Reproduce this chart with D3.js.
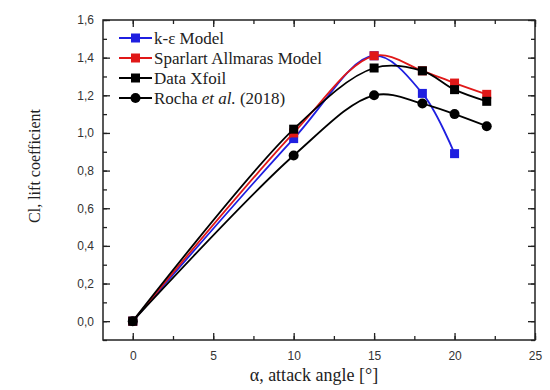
<!DOCTYPE html>
<html>
<head>
<meta charset="utf-8">
<script src="https://cdn.jsdelivr.net/npm/d3@7"></script>
<style>
  body { margin: 0; background: #fff; }
  .tick text { font-family: "Liberation Sans", Arial, sans-serif; font-size: 12px; fill: #333; }
</style>
</head>
<body>
<div id="chart"></div>
<script>
var angles = [0, 10, 15, 18, 20, 22];
var kEpsilon = [0, 0.97, 1.41, 1.21, 0.89];
var spalart = [0, 1.00, 1.41, 1.33, 1.265, 1.205];
var xfoil = [0, 1.02, 1.345, 1.33, 1.23, 1.168];
var rocha = [0, 0.88, 1.20, 1.156, 1.10, 1.036];
var seriesNames = ["k-\u03B5 Model", "Sparlart Allmaras Model", "Data Xfoil", "Rocha"];
var xTicks = [0, 5, 10, 15, 20, 25];
var yTicks = [0, 0.2, 0.4, 0.6, 0.8, 1.0, 1.2, 1.4, 1.6];

var W = 550, H = 390;
var margin = {top: 20, right: 15, bottom: 50, left: 103},
  width = W - margin.left - margin.right,
  height = H - margin.top - margin.bottom;

var svg = d3.select("#chart").append("svg")
  .attr("width", W).attr("height", H)
  .append("g")
  .attr("transform", "translate(" + margin.left + "," + margin.top + ")");

var x = d3.scaleLinear().domain([-1.85, 25]).range([0, width]);
var y = d3.scaleLinear().domain([-0.1, 1.6]).range([height, 0]);

var fmt = function(d) { return d3.format(".1f")(d).replace(".", ","); };

var series = [
  {name: seriesNames[0], values: kEpsilon, color: "#1f1fe0", shape: "square"},
  {name: seriesNames[1], values: spalart, color: "#e01818", shape: "square"},
  {name: seriesNames[2], values: xfoil, color: "#000", shape: "square"},
  {name: seriesNames[3], values: rocha, color: "#000", shape: "circle"}
];

// axes, ticks inside on all sides
var minorX = d3.range(0, 25.1, 2.5);
var minorY = d3.range(-0.1, 1.61, 0.1).map(function(v) { return Math.round(v * 10) / 10; });

function axisStyle(g) {
  g.select(".domain").remove();
  g.selectAll(".tick line").attr("stroke", "#222").attr("stroke-width", 1.3);
}

svg.append("g")
  .attr("transform", "translate(0," + height + ")")
  .call(d3.axisBottom(x).tickValues(minorX).tickSize(-4).tickFormat(""))
  .call(axisStyle);
svg.append("g")
  .attr("transform", "translate(0," + height + ")")
  .call(d3.axisBottom(x).tickValues(xTicks).tickSize(-7).tickPadding(11).tickFormat(d3.format("d")))
  .call(axisStyle);
svg.append("g")
  .call(d3.axisTop(x).tickValues(minorX).tickSize(-4).tickFormat(""))
  .call(axisStyle);
svg.append("g")
  .call(d3.axisTop(x).tickValues(xTicks).tickSize(-7).tickFormat(""))
  .call(axisStyle);

svg.append("g")
  .call(d3.axisLeft(y).tickValues(minorY).tickSize(-4).tickFormat(""))
  .call(axisStyle);
svg.append("g")
  .call(d3.axisLeft(y).tickValues(yTicks).tickSize(-7).tickPadding(9).tickFormat(fmt))
  .call(axisStyle);
svg.append("g")
  .attr("transform", "translate(" + width + ",0)")
  .call(d3.axisRight(y).tickValues(minorY).tickSize(-4).tickFormat(""))
  .call(axisStyle);
svg.append("g")
  .attr("transform", "translate(" + width + ",0)")
  .call(d3.axisRight(y).tickValues(yTicks).tickSize(-7).tickFormat(""))
  .call(axisStyle);

svg.append("rect")
  .attr("width", width).attr("height", height)
  .attr("fill", "none").attr("stroke", "#222").attr("stroke-width", 1.5);

// lines
var line = d3.line()
  .curve(d3.curveCatmullRom.alpha(0.5))
  .x(function(d) { return x(d[0]); })
  .y(function(d) { return y(d[1]); });

series.forEach(function(s) {
  var pts = s.values.map(function(v, i) { return [angles[i], v]; });
  svg.append("path")
    .datum(pts)
    .attr("fill", "none")
    .attr("stroke", s.color)
    .attr("stroke-width", 1.8)
    .attr("d", line);
  drawMarkers(svg, pts, s);
});

function drawMarkers(g, pts, s) {
  if (s.shape === "square") {
    g.selectAll(null).data(pts).enter().append("rect")
      .attr("x", function(d) { return x(d[0]) - 4.5; })
      .attr("y", function(d) { return y(d[1]) - 4.5; })
      .attr("width", 9).attr("height", 9)
      .attr("fill", s.color);
  } else {
    g.selectAll(null).data(pts).enter().append("circle")
      .attr("cx", function(d) { return x(d[0]); })
      .attr("cy", function(d) { return y(d[1]); })
      .attr("r", 5)
      .attr("fill", s.color);
  }
}

// legend
var legend = svg.append("g").attr("transform", "translate(16,18)");
series.forEach(function(s, i) {
  var row = legend.append("g").attr("transform", "translate(0," + (i * 20) + ")");
  row.append("line").attr("x1", 0).attr("x2", 33).attr("stroke", s.color).attr("stroke-width", 2);
  if (s.shape === "square") {
    row.append("rect").attr("x", 12).attr("y", -4.5).attr("width", 9).attr("height", 9).attr("fill", s.color);
  } else {
    row.append("circle").attr("cx", 16.5).attr("r", 5).attr("fill", s.color);
  }
  var t = row.append("text").attr("x", 35).attr("y", 6)
    .style("font-family", "'Liberation Serif', 'Times New Roman', serif")
    .style("font-size", "17px").attr("fill", "#222");
  if (i === 3) {
    t.append("tspan").text("Rocha ");
    t.append("tspan").style("font-style", "italic").text("et al.");
    t.append("tspan").text(" (2018)");
  } else {
    t.text(s.name);
  }
});

// axis titles
svg.append("text")
  .attr("x", width / 2 - 5).attr("y", height + 41)
  .attr("text-anchor", "middle")
  .style("font-family", "'Liberation Serif', 'Times New Roman', serif")
  .style("font-size", "18px").attr("fill", "#222")
  .text("\u03B1, attack angle [\u00B0]");

svg.append("text")
  .attr("transform", "translate(" + (-63) + "," + (height / 2 - 14) + ") rotate(-90)")
  .attr("text-anchor", "middle")
  .style("font-family", "'Liberation Serif', 'Times New Roman', serif")
  .style("font-size", "16px").attr("fill", "#222")
  .text("Cl, lift coefficient");
</script>
</body>
</html>
